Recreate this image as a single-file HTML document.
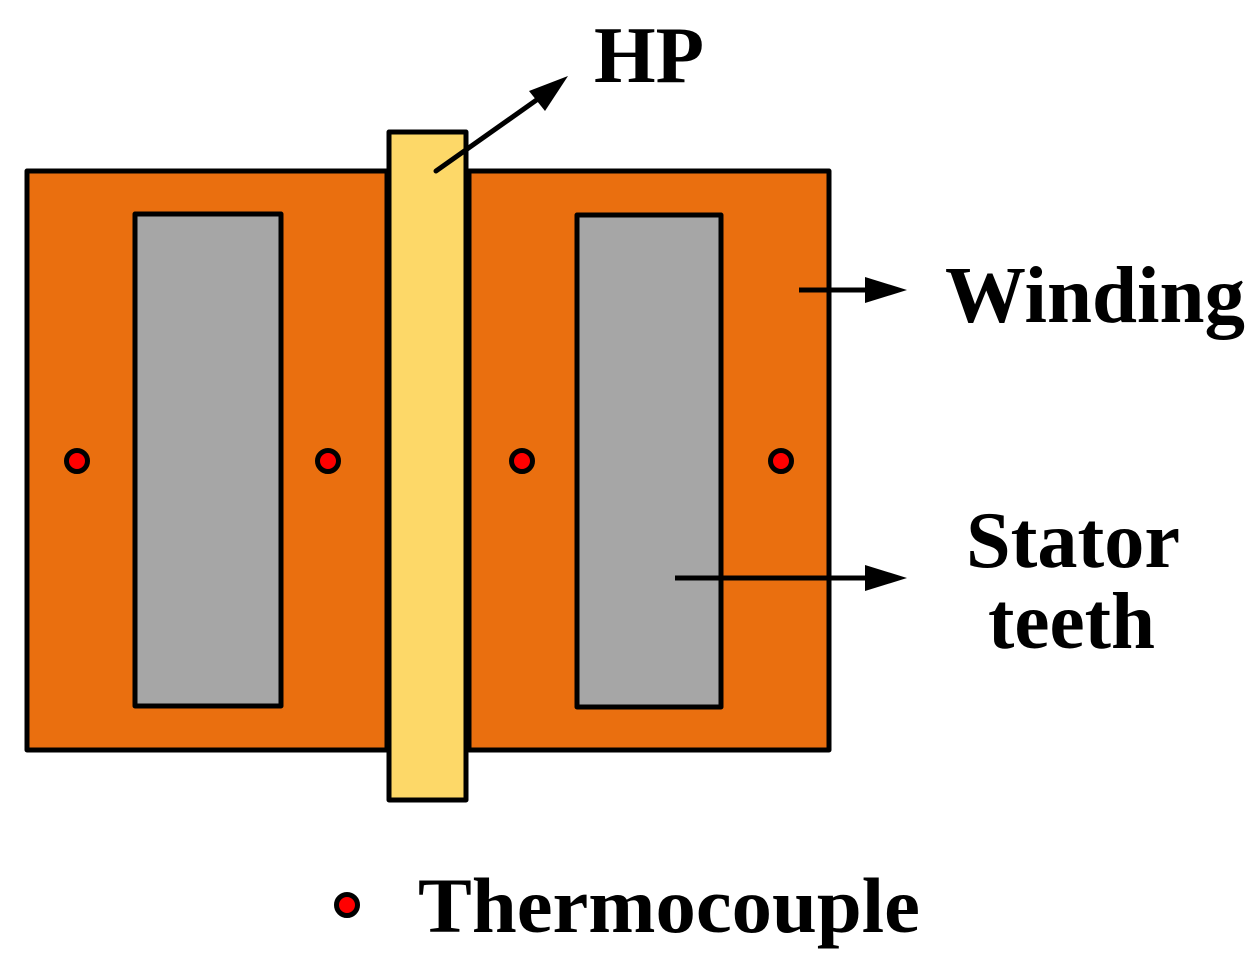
<!DOCTYPE html>
<html><head><meta charset="utf-8"><style>html,body{margin:0;padding:0;background:#fff}svg{display:block}</style></head><body>
<svg width="1260" height="980" viewBox="0 0 1260 980" xmlns="http://www.w3.org/2000/svg">
<g stroke="#000" stroke-width="5" stroke-linejoin="round">
<rect x="27" y="171" width="360" height="579" fill="#ea6f0f"/>
<rect x="469" y="171" width="360" height="579" fill="#ea6f0f"/>
<rect x="135" y="214" width="146" height="492" fill="#a6a6a6"/>
<rect x="577" y="215" width="144" height="492" fill="#a6a6a6"/>
<rect x="389" y="132" width="77" height="668" fill="#fdd868"/>
<g fill="#f00" stroke-width="5">
<circle cx="77" cy="461" r="10.5"/><circle cx="328" cy="461" r="10.5"/>
<circle cx="522" cy="461" r="10.5"/><circle cx="781" cy="461" r="10.5"/>
<circle cx="347" cy="905" r="10.5"/>
</g>
<line x1="436" y1="171" x2="545" y2="94" stroke-linecap="round"/>
<line x1="799" y1="290" x2="870" y2="290"/>
<line x1="675" y1="578" x2="870" y2="578"/>
</g>
<g fill="#000">
<polygon points="568,76 529,91 545,111"/>
<polygon points="907,290 865,277 865,303"/>
<polygon points="907,578 865,565 865,591"/>
</g>
<g font-family="'Liberation Serif',serif" font-weight="bold" fill="#000">
<text x="594" y="82" font-size="80" textLength="110" lengthAdjust="spacingAndGlyphs">HP</text>
<text x="945" y="322" font-size="80" textLength="300" lengthAdjust="spacingAndGlyphs">Winding</text>
<text x="966" y="567" font-size="80" textLength="214" lengthAdjust="spacingAndGlyphs">Stator</text>
<text x="988" y="648" font-size="80" textLength="167" lengthAdjust="spacingAndGlyphs">teeth</text>
<text x="418" y="932" font-size="78" textLength="502" lengthAdjust="spacingAndGlyphs">Thermocouple</text>
</g>
</svg>
</body></html>
